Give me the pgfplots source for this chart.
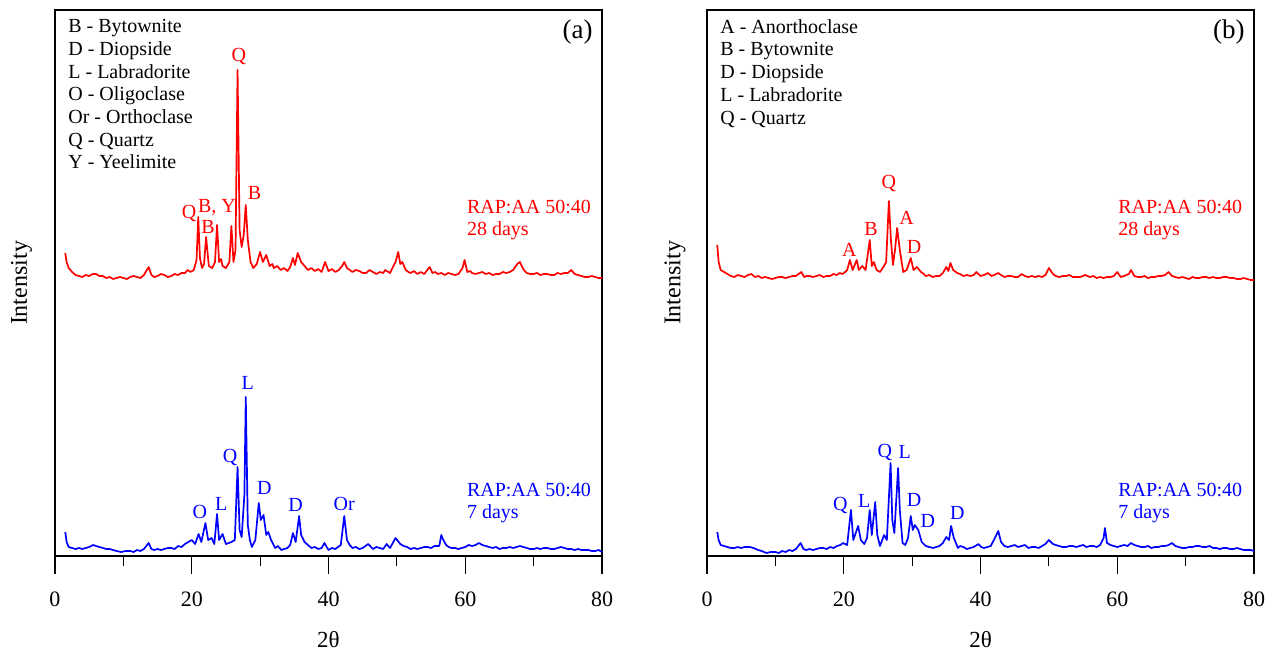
\documentclass[border=0pt]{standalone}
\usepackage{pgfplots}
\pgfplotsset{compat=1.18}
\usepackage{pgfplotstable}
\usepackage{fontspec}
\setmainfont{Liberation Serif}

\pgfplotstableread{
x y
1.5 303
1.7 294
2.0 288
2.5 284
3 281
3.5 280
4 279
4.5 281
5 280
5.5 282
6 282
6.5 280
7 280
7.5 278
8 279
8.5 277
9 278
9.5 279
10 278
10.5 277
11 279
11.5 280
12 279
12.5 278
13 281
13.7 289
14.1 281
14.5 279
15 280
15.5 282
16 281
16.5 279
17 280
17.5 282
18 281
18.5 283
19 283
19.4 286
19.8 284
20.3 286
20.7 296
20.95 339
21.2 298
21.5 288
21.8 292
22.1 319
22.5 290
23.0 288
23.4 294
23.7 331
24.0 294
24.3 297
24.5 290
25.0 288
25.5 294
25.8 330
26.1 294
26.4 306
26.7 486
27.0 326
27.3 309
27.6 321
27.9 351
28.2 316
28.6 294
29.0 288
29.5 292
30.0 304
30.4 294
30.9 301
31.4 290
31.8 292
32 288
32.5 290
33 286
33.5 288
34 285
34.4 289
34.8 298
35.1 291
35.5 303
36.0 294
36.5 290
37 286
37.5 288
38 285
38.5 287
39 284
39.5 294
40 285
40.5 287
41 284
41.5 286
42.0 290
42.3 294
42.7 288
43.1 286
43.5 284
44 286
44.5 285
45 283
45.5 283
46 286
46.5 284
47 282
47.5 284
48 283
48.3 286
49 283
49.8 294
50.2 304
50.5 292
50.8 294
51.3 286
51.7 284
52 283
52.5 285
53 282
53.5 284
54 282
54.8 289
55.2 283
55.6 284
56 282
56.5 283
57 281
57.5 283
58 282
58.5 281
59 282
59.6 288
59.9 296
60.3 284
60.7 285
61 283
61.5 282
62 283
62.5 284
63 282
63.5 283
64 281
64.5 282
65 282
65.5 284
66 283
66.5 284
67 286
67.6 292
68.0 294
68.4 288
68.7 285
69 283
69.5 282
70 282
70.5 283
71 281
71.5 282
72 282
72.5 281
73 281
73.5 283
74 282
74.5 283
75 283
75.5 286
76 282
76.5 281
77 280
77.5 279
78 279
78.5 280
79 279
79.5 278
80 278
}\redA

\pgfplotstableread{
x y
1.5 24
1.7 14
2.0 9
2.5 8
3 7
3.5 8
4 7
4.5 8
5 9
5.6 11
6.0 10
6.5 9
7 8
7.5 7
8 7
8.5 6
9 5
9.7 4
10.3 5
11 5
11.5 4
12 6
12.5 5
13 7
13.7 13
14.1 7
14.5 6
15 7
15.5 6
16 7
16.5 8
17 8
17.5 7
18 10
18.5 9
19 12
19.5 14
20 16
20.5 12
21.0 22
21.4 14
22.0 33
22.4 16
22.9 18
23.3 12
23.7 42
24.0 16
24.5 22
25.0 12
25.4 13
25.8 14
26.3 16
26.7 89
27.0 26
27.3 19
27.7 61
27.9 159
28.2 31
28.5 16
28.8 9
29.3 16
29.8 53
30.1 36
30.5 41
30.9 21
31.2 24
31.6 16
32.2 8
32.6 10
33.1 6
33.5 7
34 8
34.4 11
34.8 23
35.2 14
35.7 40
36.0 21
36.5 14
37.0 11
37.5 8
38 9
38.5 7
39 8
39.4 13
40 6
40.5 8
41 7
41.8 11
42.3 40
42.7 16
43.1 11
43.5 8
44 9
44.5 7
45 8
45.8 12
46.5 7
47 9
47.5 8
48 7
48.5 12
49 8
49.8 18
50.5 12
51 10
51.5 9
52 7
52.5 8
53 7
53.5 8
54 9
54.5 9
55 8
55.5 10
56.2 10
56.5 21
56.8 16
57.2 11
57.6 9
58 8
58.5 8
59 7
59.5 8
60 9
60.5 11
61 10
61.5 11
62 13
62.5 11
63 10
63.5 9
64 8
64.5 9
65 7
65.5 8
66 8
66.5 9
67 8
67.5 9
68 10
68.5 9
69 8
69.5 7
70 7
70.5 8
71 7
71.5 8
72 8
72.5 7
73 7
73.5 8
74 9
74.5 8
75 7
75.5 7
76 6
76.5 7
77 6
77.5 6
78 6
78.5 5
79 5
79.5 6
80 4
}\blueA

\pgfplotstableread{
x y
1.5 311
1.7 294
2.0 286
2.5 284
3 282
3.5 280
4 279
4.5 281
5 280
5.5 279
6 281
6.5 282
7 279
7.5 280
8 278
8.5 279
9 278
9.5 277
10 278
10.5 279
11 279
11.5 278
12 279
12.5 280
13 280
13.8 284
14.2 279
14.6 280
15 280
15.5 279
16 280
16.5 281
17 279
17.5 280
18 280
18.5 282
19 281
19.4 283
19.8 282
20.2 284
20.5 286
20.9 296
21.3 286
21.9 296
22.2 286
22.7 290
23.2 286
23.8 316
24.1 290
24.4 294
24.8 286
25.3 284
25.8 289
26.2 294
26.6 355
26.9 316
27.2 291
27.5 306
27.8 328
28.2 306
28.7 284
29.2 286
29.8 298
30.2 286
30.7 289
31.3 284
31.7 282
32 280
32.5 281
33 279
33.5 280
34 280
34.5 283
35.0 289
35.3 285
35.6 293
36.0 286
36.6 283
37 282
37.5 280
38 281
38.5 280
39 281
39.4 284
40 280
40.5 281
41.1 283
41.6 280
42 281
42.6 283
43 281
43.5 279
44 280
44.5 280
45 279
45.5 279
46.0 282
46.5 280
47 279
47.5 280
48 279
48.5 280
49 279
49.5 281
50 288
50.6 282
51 280
51.5 279
52 280
52.5 280
53 281
53.5 279
54 279
54.5 279
55 280
55.3 281
56 279
56.5 280
57 278
57.5 279
58 278
58.5 279
59 279
59.5 280
60 284
60.5 279
61 280
61.3 281
61.7 282
62 286
62.5 280
63 279
63.5 279
64 280
64.5 278
65 279
65.5 279
66 280
66.5 280
67 281
67.5 284
68 280
68.5 279
69 278
69.5 279
70 278
70.5 277
71 279
71.5 278
72 278
72.5 279
73 279
73.5 278
74 279
74.5 278
75 278
75.5 279
76 279
76.5 278
77 278
77.5 277
78 277
78.5 278
79 277
79.5 276
80 276
}\redB

\pgfplotstableread{
x y
1.5 24
1.7 16
2.0 11
2.5 10
3 9
3.5 8
4 8
4.5 9
5 8
5.5 9
6.25 9
6.8 8
7.5 6
8.0 5
8.7 3
9.3 4
10 4
10.5 3
11 5
11.5 4
12 6
12.5 5
13 7
13.7 13
14.1 7
14.5 6
15 7
15.5 6
16 7
16.5 8
17 8
17.5 7
18 9
18.5 8
19 10
19.5 11
19.9 13
20.5 11
21.05 46
21.4 16
22.1 30
22.5 16
23.0 12
23.4 18
23.8 46
24.1 21
24.6 54
24.9 21
25.3 10
25.9 21
26.3 16
26.85 93
27.1 36
27.4 23
27.95 88
28.2 46
28.6 13
29.0 11
29.4 18
29.8 40
30.1 26
30.4 31
30.9 26
31.4 14
31.7 12
32 10
32.5 9
33.1 8
33.5 9
34 10
34.5 13
35.0 19
35.4 16
35.7 30
36.1 18
36.7 8
37 10
37.5 9
38 7
38.5 8
39 9
39.7 12
40.1 9
40.5 8
41 9
41.5 10
42.1 18
42.6 25
43.0 14
43.5 10
44 9
44.5 10
45 11
45.5 9
46 10
46.5 11
47 8
47.5 9
48 9
48.5 8
49 10
49.5 12
50 16
50.6 12
51 11
51.5 10
52 9
52.5 9
53 10
53.5 10
54 9
54.5 10
55 11
55.5 9
56 10
56.5 10
57 9
57.5 11
58.0 18
58.2 28
58.5 13
59 11
59.5 10
60 9
60.5 10
61 11
61.5 10
62 13
62.5 11
63 10
63.5 9
64 9
64.5 10
65 8
65.5 9
66 9
66.5 10
67 10
67.5 11
68 13
68.5 10
69 9
69.5 8
70 8
70.5 9
71 9
71.5 10
72 10
72.5 9
73 9
73.5 10
74 8
74.5 8
75 7
75.5 8
76 8
76.5 7
77 7
77.5 8
78 7
78.5 6
79 6
79.5 6
80 5
}\blueB

\pgfplotsset{
  xrdaxis/.style={
    anchor=south west,
    scale only axis,
    width=273.5pt, height=273pt,
    xmin=0, xmax=80, ymin=0, ymax=546,
    xtick={0,20,40,60,80},
    minor xtick={10,30,50,70},
    ytick=\empty,
    xtick pos=bottom,
    tick align=outside,
    major tick length=9pt,
    minor tick length=5pt,
    every tick/.style={black, line width=0.6pt},
    axis line style={line width=0.7pt},
    /pgf/number format/assume math mode=true,
    tick label style={font=\fontsize{11}{13}\selectfont},
    xticklabel style={yshift=-5.5pt},
    xlabel={2θ},
    xlabel style={at={(axis description cs:0.5,0)}, anchor=center, yshift=-42pt, font=\fontsize{11.5}{13}\selectfont},
    ylabel={Intensity},
    ylabel style={at={(axis description cs:0,0.5)}, anchor=center, rotate=0, font=\fontsize{12}{14}\selectfont},
    clip=false,
    every axis plot/.append style={line width=0.85pt, line join=round},
  },
}

\begin{document}
\begin{tikzpicture}
\useasboundingbox (0,0) rectangle (640pt,325pt);
% Panel (a)
\begin{axis}[xrdaxis, at={(27.5pt,47pt)}, ylabel style={yshift=16.7pt}]
\addplot[red, no marks] table[x=x,y=y] {\redA};
\addplot[blue, no marks] table[x=x,y=y] {\blueA};
\node[anchor=north west, inner sep=0pt, align=left, font=\fontsize{10}{11.35}\selectfont] at (rel axis cs:0,1) [xshift=6.5pt, yshift=-4.5pt] {B - Bytownite\\D - Diopside\\L - Labradorite\\O - Oligoclase\\Or - Orthoclase\\Q - Quartz\\Y - Yeelimite};
\node[anchor=east, inner sep=0pt, font=\fontsize{13.5}{15}\selectfont] at (rel axis cs:1,1) [xshift=-4.5pt, yshift=-11pt] {(a)};
\begin{scope}[every node/.style={font=\fontsize{10}{12}\selectfont, inner sep=0pt}]
\node[red] at (axis cs:26.9,500) {Q};
\node[red] at (axis cs:19.6,343) {Q};
\node[red] at (axis cs:23.7,349) {B, Y};
\node[red] at (axis cs:22.4,329) {B};
\node[red] at (axis cs:29.2,363) {B};
\node[red, anchor=west, align=left, font=\fontsize{10}{11}\selectfont] at (axis cs:60.2,336) {RAP:AA 50:40\\28 days};
\node[blue] at (axis cs:28.2,173) {L};
\node[blue] at (axis cs:25.6,99) {Q};
\node[blue] at (axis cs:30.6,68) {D};
\node[blue] at (axis cs:24.3,52) {L};
\node[blue] at (axis cs:21.2,44) {O};
\node[blue] at (axis cs:35.2,51) {D};
\node[blue] at (axis cs:42.3,52) {Or};
\node[blue, anchor=west, align=left, font=\fontsize{10}{11}\selectfont] at (axis cs:60.2,53) {RAP:AA 50:40\\7 days};
\end{scope}
\end{axis}
% Panel (b)
\begin{axis}[xrdaxis, at={(353.5pt,47pt)}, ylabel style={yshift=16pt}]
\addplot[red, no marks] table[x=x,y=y] {\redB};
\addplot[blue, no marks] table[x=x,y=y] {\blueB};
\node[anchor=north west, inner sep=0pt, align=left, font=\fontsize{10}{11.35}\selectfont] at (rel axis cs:0,1) [xshift=6.5pt, yshift=-4.5pt] {A - Anorthoclase\\B - Bytownite\\D - Diopside\\L - Labradorite\\Q - Quartz};
\node[anchor=east, inner sep=0pt, font=\fontsize{13.5}{15}\selectfont] at (rel axis cs:1,1) [xshift=-4.5pt, yshift=-11pt] {(b)};
\begin{scope}[every node/.style={font=\fontsize{10}{12}\selectfont, inner sep=0pt}]
\node[red] at (axis cs:26.6,373) {Q};
\node[red] at (axis cs:29.2,338) {A};
\node[red] at (axis cs:24.0,327) {B};
\node[red] at (axis cs:20.8,306) {A};
\node[red] at (axis cs:30.3,309) {D};
\node[red, anchor=west, align=left, font=\fontsize{10}{11}\selectfont] at (axis cs:60.1,336) {RAP:AA 50:40\\28 days};
\node[blue] at (axis cs:26.0,104) {Q};
\node[blue] at (axis cs:28.9,104) {L};
\node[blue] at (axis cs:19.5,51) {Q};
\node[blue] at (axis cs:23.0,55) {L};
\node[blue] at (axis cs:30.3,56) {D};
\node[blue] at (axis cs:32.3,35) {D};
\node[blue] at (axis cs:36.6,43) {D};
\node[blue, anchor=west, align=left, font=\fontsize{10}{11}\selectfont] at (axis cs:60.1,53) {RAP:AA 50:40\\7 days};
\end{scope}
\end{axis}
\end{tikzpicture}
\end{document}
